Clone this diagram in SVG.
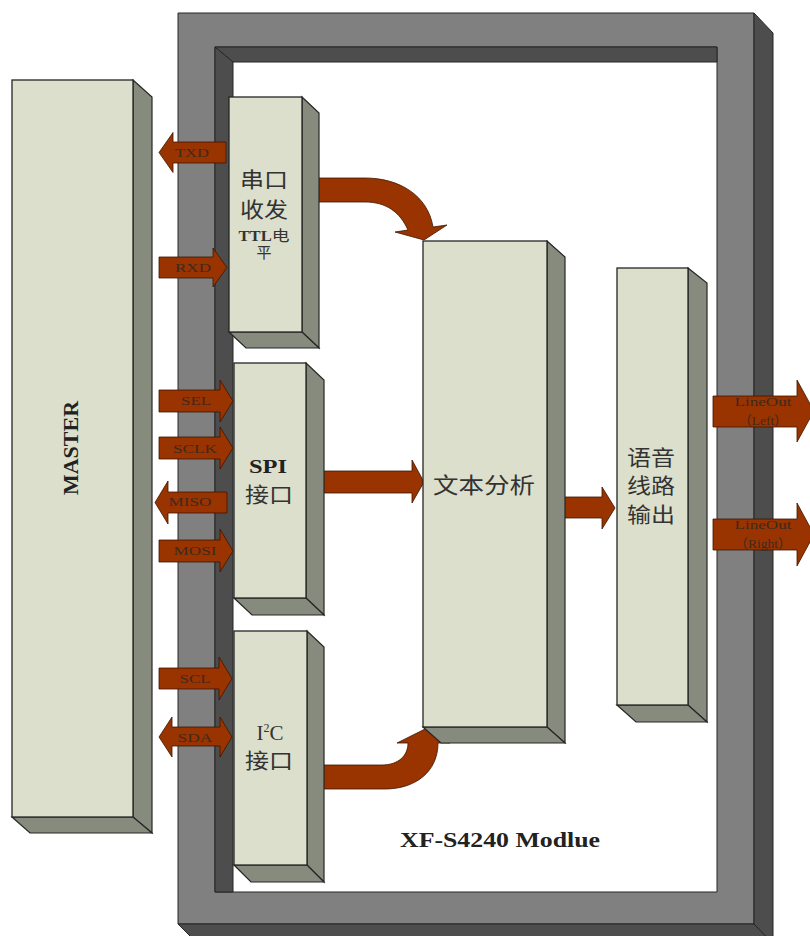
<svg xmlns="http://www.w3.org/2000/svg" width="810" height="936" viewBox="0 0 810 936">
<style>
.frame{fill:#808080;stroke:#262626;stroke-width:1}
.dark{fill:#4d4d4d;stroke:#262626;stroke-width:1}
.front{fill:#dcdfcb;stroke:#262626;stroke-width:1.3}
.side{fill:#878b7d;stroke:#262626;stroke-width:1.2}
.arr{fill:#993300;stroke:#3d1500;stroke-width:0.8}
.lbl{font-family:"Liberation Serif",serif;font-size:13.5px;fill:#3f2a1e;text-anchor:middle}
.cjk{font-family:"Noto Sans CJK SC",sans-serif;fill:#333;text-anchor:middle}
.bold{font-family:"Liberation Serif",serif;font-weight:bold;fill:#222;text-anchor:middle}
</style>
<rect width="810" height="936" fill="#fff"/>
<g id="module-frame">
<path class="frame" fill-rule="evenodd" d="M178,13 H754 V924 H178 Z M215,47 V892 H717 V47 Z"/>
<polygon class="dark" points="215,47 717,47 717,62 233,62"/>
<polygon class="dark" points="215,47 233,62 233,892 215,892"/>
<polygon class="dark" points="754,13 773,33 773,944 754,924"/>
<polygon class="dark" points="178,924 754,924 773,944 198,944"/>
<text class="bold" x="500" y="847" font-size="21" textLength="200" lengthAdjust="spacingAndGlyphs">XF-S4240 Modlue</text>
</g>
<g id="master">
<polygon class="side" points="133,80 152,97 152,833 133,817"/>
<polygon class="side" points="12,817 133,817 152,833 30,833"/>
<rect class="front" x="12" y="80" width="121" height="737"/>
<text class="bold" x="71" y="455" font-size="22" transform="rotate(-90 71 448)">MASTER</text>
</g>
<g id="connectors">
<g id="txd"><polygon class="arr" points="226,142 173,142 173,132.5 159,152.5 173,172.5 173,163 226,163"/><text class="lbl" x="192" y="157" textLength="34" lengthAdjust="spacingAndGlyphs">TXD</text></g>
<g id="rxd"><polygon class="arr" points="159,257 213,257 213,248 227,267.5 213,287 213,278 159,278"/><text class="lbl" x="193" y="272" textLength="36" lengthAdjust="spacingAndGlyphs">RXD</text></g>
<g id="sel"><polygon class="arr" points="159,390 220,390 220,380 233,401 220,422 220,412 159,412"/><text class="lbl" x="196" y="405" textLength="30" lengthAdjust="spacingAndGlyphs">SEL</text></g>
<g id="sclk"><polygon class="arr" points="159,437 220,437 220,427 233,448 220,469 220,459 159,459"/><text class="lbl" x="195" y="453" textLength="44" lengthAdjust="spacingAndGlyphs">SCLK</text></g>
<g id="miso"><polygon class="arr" points="227,492 168,492 168,481 155,502.5 168,524 168,513 227,513"/><text class="lbl" x="190" y="506" textLength="43" lengthAdjust="spacingAndGlyphs">MISO</text></g>
<g id="mosi"><polygon class="arr" points="159,540 220,540 220,529 233,551 220,572 220,562 159,562"/><text class="lbl" x="195" y="555" textLength="43" lengthAdjust="spacingAndGlyphs">MOSI</text></g>
<g id="scl"><polygon class="arr" points="159,668 219,668 219,657 232,678.5 219,700 219,689 159,689"/><text class="lbl" x="195" y="683" textLength="31" lengthAdjust="spacingAndGlyphs">SCL</text></g>
<g id="sda"><polygon class="arr" points="159,737 172,717 172,727 220,727 220,717 232,737 220,757 220,746 172,746 172,757"/><text class="lbl" x="195" y="742" textLength="35" lengthAdjust="spacingAndGlyphs">SDA</text></g>
<path id="uart-to-text" class="arr" d="M312,178 L365,178 C400,178 428,196 433,227 L447,225 L424,240 L395,232 L408,230 C400,212 386,202 365,202 L312,202 Z"/>
<polygon id="spi-to-text" class="arr" points="319,471 412,471 412,460 424,482 412,503 412,493 319,493"/>
<path id="i2c-to-text" class="arr" d="M323,765 L382,765 C398,765 408,756 408,743 L397,743 L425,729 L450,743 L438,743 C438,772 415,789 385,789 L323,789 Z"/>
<polygon id="text-to-audio" class="arr" points="558,497 602,497 602,487 615,508 602,529 602,518 558,518"/>
<g id="lineout-left"><polygon class="arr" points="713,396 797,396 797,380 814,411 797,442 797,427 713,427"/><text class="lbl" x="763" y="406" textLength="57" lengthAdjust="spacingAndGlyphs">LineOut</text><text class="lbl" x="763" y="425" textLength="49" lengthAdjust="spacingAndGlyphs" style="font-family:'Liberation Serif','Noto Sans CJK SC',serif">（Left）</text></g>
<g id="lineout-right"><polygon class="arr" points="713,519 797,519 797,503 814,534.5 797,566 797,550 713,550"/><text class="lbl" x="763" y="529" textLength="57" lengthAdjust="spacingAndGlyphs">LineOut</text><text class="lbl" x="763" y="548" textLength="57" lengthAdjust="spacingAndGlyphs" style="font-family:'Liberation Serif','Noto Sans CJK SC',serif">（Right）</text></g>
</g>
<g id="uart">
<polygon class="side" points="302,97 319,113 319,348 302,332"/>
<polygon class="side" points="229,332 302,332 319,348 246,348"/>
<rect class="front" x="229" y="97" width="73" height="235"/>
<text class="cjk" x="264" y="187" font-size="21" textLength="48" lengthAdjust="spacingAndGlyphs">串口</text>
<text class="cjk" x="264" y="217" font-size="21" textLength="48" lengthAdjust="spacingAndGlyphs">收发</text>
<text x="264" y="241" text-anchor="middle" textLength="51" lengthAdjust="spacingAndGlyphs"><tspan style="font-family:'Liberation Serif',serif;font-weight:bold;font-size:14px;fill:#333">TTL</tspan><tspan style="font-family:'Noto Sans CJK SC',sans-serif;font-size:15px;fill:#333">电</tspan></text>
<text class="cjk" x="264" y="258" font-size="15">平</text>
</g>
<g id="spi">
<polygon class="side" points="306,363 324,380 324,615 306,598"/>
<polygon class="side" points="234,598 306,598 324,615 252,615"/>
<rect class="front" x="234" y="363" width="72" height="235"/>
<text class="bold" x="268" y="473" font-size="19" textLength="38" lengthAdjust="spacingAndGlyphs">SPI</text>
<text class="cjk" x="269" y="502" font-size="21" textLength="48" lengthAdjust="spacingAndGlyphs">接口</text>
</g>
<g id="i2c">
<polygon class="side" points="307,631 324,647 324,882 307,865"/>
<polygon class="side" points="234,865 307,865 324,882 251,882"/>
<rect class="front" x="234" y="631" width="73" height="234"/>
<text x="270" y="740" text-anchor="middle" style="font-family:'Liberation Serif',serif;font-size:21px;fill:#333">I<tspan font-size="12" dy="-8">2</tspan><tspan dy="8">C</tspan></text>
<text class="cjk" x="269" y="768" font-size="21" textLength="48" lengthAdjust="spacingAndGlyphs">接口</text>
</g>
<g id="text-analysis">
<polygon class="side" points="547,241 565,257 565,743 547,727"/>
<polygon class="side" points="423,727 547,727 565,743 441,743"/>
<rect class="front" x="423" y="241" width="124" height="486"/>
<text class="cjk" x="484" y="493" font-size="22" textLength="102" lengthAdjust="spacingAndGlyphs">文本分析</text>
</g>
<g id="audio-out">
<polygon class="side" points="688,268 707,283 707,722 688,705"/>
<polygon class="side" points="617,705 688,705 707,722 636,722"/>
<rect class="front" x="617" y="268" width="71" height="437"/>
<text class="cjk" x="651" y="465" font-size="21" textLength="48" lengthAdjust="spacingAndGlyphs">语音</text>
<text class="cjk" x="651" y="493" font-size="21" textLength="48" lengthAdjust="spacingAndGlyphs">线路</text>
<text class="cjk" x="651" y="522" font-size="21" textLength="48" lengthAdjust="spacingAndGlyphs">输出</text>
</g>
</svg>
